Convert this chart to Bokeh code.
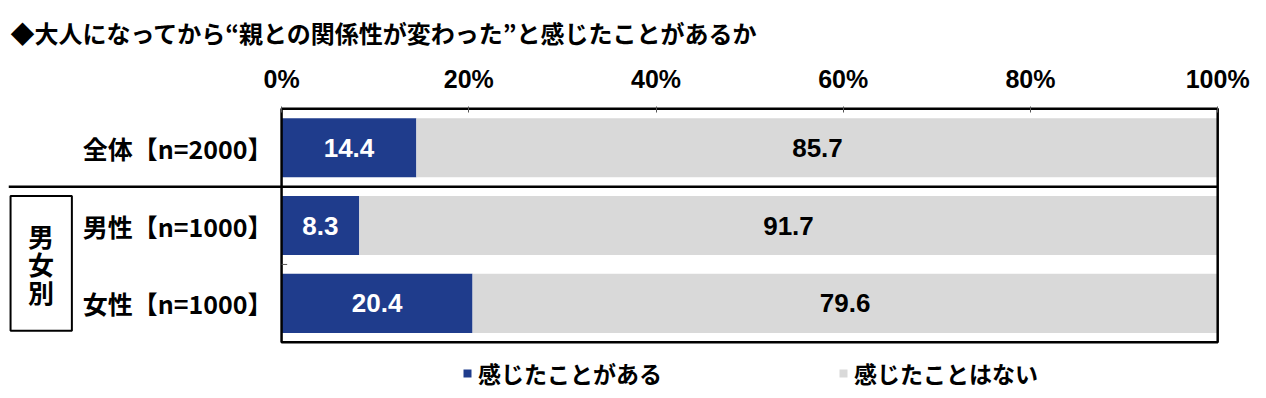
from bokeh.plotting import figure
from bokeh.models import Range1d, FixedTicker, ColumnDataSource, Legend, LegendItem
from bokeh.core.properties import value
from bokeh.embed import file_html
from bokeh.resources import INLINE

# ---- data ----
categories = ["全体【n=2000】", "男性【n=1000】", "女性【n=1000】"]
felt = [14.4, 8.3, 20.4]
not_felt = [85.7, 91.7, 79.6]
series_names = ["感じたことがある", "感じたことはない"]
x_ticks = [0, 20, 40, 60, 80, 100]
x_tick_labels = ["0%", "20%", "40%", "60%", "80%", "100%"]
group_chars = ["男", "女", "別"]
title_text = "◆大人になってから“親との関係性が変わった”と感じたことがあるか"

BLUE = "#1f3c8c"
GRAY = "#d9d9d9"
JP = value("Noto Sans CJK JP")
LAT = value("Liberation Sans")

n = len(categories)
ys = [n - i - 0.5 for i in range(n)]
x_start = -29.17

p = figure(width=1258, height=390, output_backend="svg", toolbar_location=None,
           x_range=Range1d(x_start, 100.3), y_range=Range1d(-0.62, 3.03),
           x_axis_location="above", y_axis_location=None,
           min_border_left=8, min_border_right=38, min_border_top=100, min_border_bottom=0)
p.grid.visible = False
p.outline_line_color = None
p.background_fill_color = "white"

# title
p.title.text = title_text
p.title.text_font = "Noto Sans CJK JP"
p.title.text_font_size = "24px"
p.title.text_font_style = "bold"
p.title.text_color = "black"
p.title.offset = 2
p.title.standoff = 24
p.title.text_line_height = 0.7

# top axis
ax = p.xaxis[0]
ax.ticker = FixedTicker(ticks=x_ticks)
ax.major_label_overrides = {t: l for t, l in zip(x_ticks, x_tick_labels)}
ax.axis_line_color = None
ax.major_tick_in = 6
ax.major_tick_out = 0
ax.major_tick_line_color = "#555555"
ax.minor_tick_line_color = None
ax.major_label_text_font = "Liberation Sans"
ax.major_label_text_font_size = "25px"
ax.major_label_text_font_style = "bold"
ax.major_label_text_color = "black"
ax.major_label_standoff = 14

src = ColumnDataSource(dict(
    y=ys, cat=categories, felt=felt, not_felt=not_felt,
    end=[a + b for a, b in zip(felt, not_felt)],
    felt_mid=[a / 2 for a in felt],
    not_mid=[a + b / 2 for a, b in zip(felt, not_felt)],
    felt_lbl=[f"{v:.1f}" for v in felt],
    not_lbl=[f"{v:.1f}" for v in not_felt],
))

r1 = p.hbar(y="y", left=0, right="felt", height=0.76, fill_color=BLUE, line_color=None, source=src)
r2 = p.hbar(y="y", left="felt", right="end", height=0.76, fill_color=GRAY, line_color=None, source=src)

p.text(x="felt_mid", y="y", text="felt_lbl", source=src, text_color="white",
       text_font=LAT, text_font_size="26px", text_font_style="bold",
       text_align="center", text_baseline="middle")
p.text(x="not_mid", y="y", text="not_lbl", source=src, text_color="black",
       text_font=LAT, text_font_size="26px", text_font_style="bold",
       text_align="center", text_baseline="middle")

# category labels
p.text(x=-0.96, y="y", text="cat", source=src, text_color="black",
       text_font=JP, text_font_size="25px", text_font_style="bold",
       text_align="right", text_baseline="middle")

# plot frame
p.quad(left=0, right=100, bottom=0, top=3, fill_alpha=0, line_color="black", line_width=2.5)
# separator between total and gender group
p.segment(x0=x_start, y0=2, x1=100, y1=2, line_color="black", line_width=2.5)
# small category tick
p.segment(x0=0, y0=1, x1=0.6, y1=1, line_color="#555555", line_width=1)

# group box
p.quad(left=-28.95, right=-22.4, bottom=0.147, top=1.88, fill_alpha=0,
       line_color="black", line_width=2)
p.text(x=[-25.7] * 3, y=[1.37, 1.01, 0.65], text=group_chars, text_color="black",
       text_font=JP, text_font_size="26px", text_font_style="bold",
       text_align="center", text_baseline="middle")

legend = Legend(items=[LegendItem(label=series_names[0], renderers=[r1]),
                       LegendItem(label=series_names[1], renderers=[r2])],
                orientation="horizontal", location=(454, 0),
                glyph_width=10, glyph_height=10, label_standoff=6, spacing=176,
                padding=0, margin=0, border_line_color=None, background_fill_alpha=0,
                label_text_font="Noto Sans CJK JP", label_text_font_size="23px",
                label_text_font_style="bold", label_text_color="black")
p.add_layout(legend)

open("out.html", "w").write(file_html(p, INLINE))
